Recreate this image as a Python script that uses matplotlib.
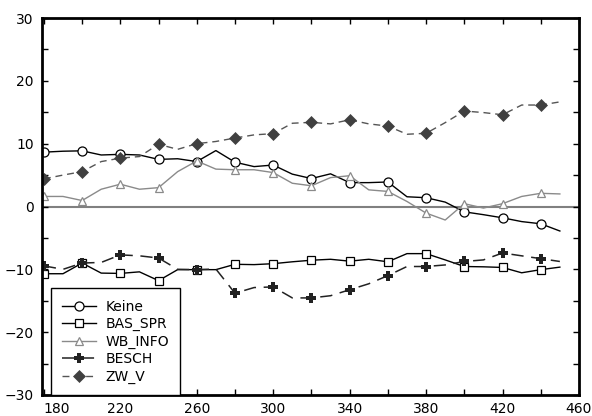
import matplotlib
matplotlib.use("Agg")
import matplotlib.pyplot as plt
from matplotlib.legend_handler import HandlerLine2D
from matplotlib.ticker import MultipleLocator

# x positions: every 10 units, markers shown on every second point
x = list(range(180, 460, 10))

keine = [8.65, 8.8, 8.86, 8.2, 8.3, 8.2, 7.5, 7.6, 7.15, 8.9, 7.05, 6.35, 6.6, 5.15,
         4.45, 5.2, 3.8, 3.8, 3.9, 1.55, 1.4, 0.7, -0.85, -1.3, -1.8, -2.4, -2.75, -3.9]
bas_spr = [-10.7, -10.7, -9.0, -10.6, -10.65, -10.4, -11.8, -10.05, -10.05, -10.05, -9.2,
           -9.25, -9.1, -8.8, -8.55, -8.4, -8.7, -8.4, -8.8, -7.5, -7.5, -8.5, -9.55, -9.6,
           -9.7, -10.55, -10.05, -9.65]
wb_info = [1.6, 1.6, 0.95, 2.75, 3.55, 2.75, 3.0, 5.55, 7.25, 5.95, 5.85, 5.85, 5.4, 3.7,
           3.3, 4.6, 4.9, 2.65, 2.4, 0.8, -1.05, -2.15, 0.45, -0.25, 0.45, 1.6, 2.1, 2.0]
besch = [-9.45, -10.0, -9.0, -8.9, -7.7, -7.85, -8.2, -10.0, -10.05, -9.95, -13.8, -12.9,
         -12.8, -14.55, -14.55, -14.2, -13.25, -12.3, -11.0, -9.55, -9.55, -9.3, -8.75,
         -8.5, -7.4, -7.85, -8.3, -8.75]
zw_v = [4.4, 5.0, 5.55, 7.15, 7.7, 7.95, 9.9, 9.1, 10.0, 10.35, 10.9, 11.4, 11.6, 13.25,
        13.4, 13.15, 13.8, 13.15, 12.8, 11.5, 11.65, 13.35, 15.2, 14.95, 14.6, 16.15,
        16.15, 16.65]

x_ticks = [180, 220, 260, 300, 340, 380, 420, 460]
y_ticks = [-30, -20, -10, 0, 10, 20, 30]


class MarkerLeftHandler(HandlerLine2D):
    # put the legend marker at the left end of the sample line
    def get_xdata(self, legend, xdescent, ydescent, width, height, fontsize):
        xdata, _ = super().get_xdata(legend, xdescent, ydescent, width, height, fontsize)
        return xdata, [-xdescent]


fig = plt.figure(figsize=(5.92, 4.16), dpi=100)
ax = fig.add_axes([0.0709, 0.0505, 0.9071, 0.9062])

ax.axhline(0, color="#808080", lw=1.5, zorder=1)

ax.plot(x, keine, color="black", lw=1.0, marker="o", mfc="white", mec="black",
        label="Keine", markevery=2, ms=6.5, mew=0.9)
ax.plot(x, bas_spr, color="black", lw=1.0, marker="s", mfc="white", mec="black",
        label="BAS_SPR", markevery=2, ms=5.5, mew=0.9)
ax.plot(x, wb_info, color="#8a8a8a", lw=1.0, marker="^", mfc="white", mec="#8a8a8a",
        label="WB_INFO", markevery=2, ms=6, mew=0.9)
ax.plot(x, besch, color="#222222", lw=1.1, dashes=(8, 5), marker="P", mfc="#222222",
        mec="#222222", label="BESCH", markevery=2, ms=6.5, mew=0)
ax.plot(x, zw_v, color="#555555", lw=1.0, dashes=(5, 3.5), marker="D", mfc="#404040",
        mec="#404040", label="ZW_V", markevery=2, ms=6, mew=0.5)

ax.set_xlim(179, 459)
ax.set_ylim(-30, 30)
ax.set_xticks(x_ticks)
ax.xaxis.set_minor_locator(MultipleLocator(20))
ax.yaxis.set_minor_locator(MultipleLocator(5))
ax.set_yticks(y_ticks)
ax.set_yticklabels([str(v).replace("-", "\u2212") for v in y_ticks])
ax.set_xticklabels([str(v) for v in x_ticks])
ax.get_xticklabels()[0].set_horizontalalignment("left")

ax.tick_params(which="both", direction="in", top=True, right=True, width=1,
               length=4, labelsize=10, colors="black")
ax.tick_params(axis="x", pad=5)
ax.tick_params(axis="y", pad=6)
for s in ax.spines.values():
    s.set_linewidth(2)

leg = ax.legend(loc="lower left", bbox_to_anchor=(0.017, 0.0), borderaxespad=0,
                fancybox=False, edgecolor="black", framealpha=1, fontsize=10,
                handlelength=2.4, handletextpad=0.7, borderpad=0.8,
                labelspacing=0.25, numpoints=1,
                handler_map={matplotlib.lines.Line2D: MarkerLeftHandler()})
leg.get_frame().set_linewidth(1.0)

fig.savefig("out.png", dpi=100)
